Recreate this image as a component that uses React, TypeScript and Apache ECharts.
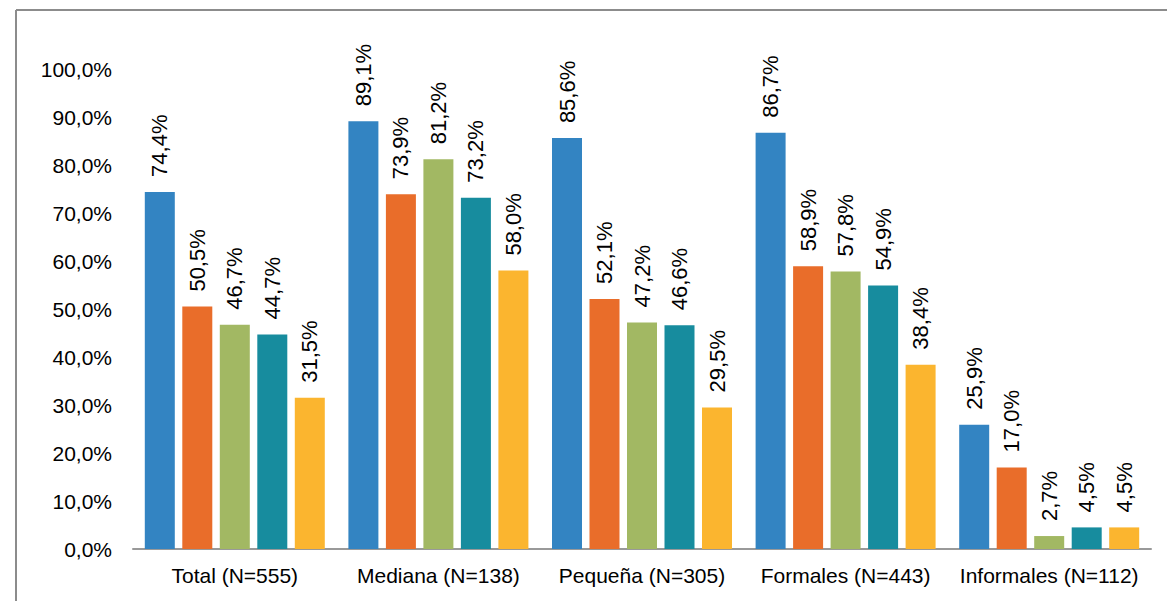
import React, { useEffect, useRef } from "react";
import * as echarts from "echarts";

const categories = ["Total (N=555)", "Mediana (N=138)", "Pequeña (N=305)", "Formales (N=443)", "Informales (N=112)"];
const serie1 = [74.4, 89.1, 85.6, 86.7, 25.9];
const serie2 = [50.5, 73.9, 52.1, 58.9, 17.0];
const serie3 = [46.7, 81.2, 47.2, 57.8, 2.7];
const serie4 = [44.7, 73.2, 46.6, 54.9, 4.5];
const serie5 = [31.5, 58.0, 29.5, 38.4, 4.5];
const seriesNames = ["Serie 1", "Serie 2", "Serie 3", "Serie 4", "Serie 5"];
const colors = ["#3384C2", "#E96D2A", "#A2B863", "#178C9E", "#FBB52F"];

const fmt = (v: number) => v.toFixed(1).replace(".", ",") + "%";

export default function App() {
  const ref = useRef<HTMLDivElement>(null);
  useEffect(() => {
    document.body.style.margin = "0";
    const chart = echarts.init(ref.current!, null, { renderer: "svg" });
    const data = [serie1, serie2, serie3, serie4, serie5];
    chart.setOption({
      animation: false,
      textStyle: { fontFamily: "Liberation Sans, Arial, sans-serif" },
      grid: { left: 133, right: 16, top: 69, bottom: 52 },
      xAxis: {
        type: "category",
        data: categories,
        axisLine: { lineStyle: { color: "#999999", width: 2 } },
        axisTick: { show: false },
        axisLabel: { color: "#000", fontSize: 21, margin: 16, interval: 0 },
      },
      yAxis: {
        type: "value",
        min: 0,
        max: 100,
        interval: 10,
        splitLine: { show: false },
        axisLine: { show: false },
        axisTick: { show: false },
        axisLabel: { color: "#000", fontSize: 21, margin: 21, formatter: (v: number) => fmt(v) },
      },
      graphic: [
        { type: "line", shape: { x1: 16, y1: 10, x2: 1167, y2: 10 }, style: { stroke: "#8c8c8c", lineWidth: 2 } },
        { type: "line", shape: { x1: 16, y1: 10, x2: 16, y2: 601 }, style: { stroke: "#8c8c8c", lineWidth: 2 } },
      ],
      series: data.map((d, i) => ({
        name: seriesNames[i],
        type: "bar",
        data: d,
        barWidth: 30,
        barGap: "25%",
        itemStyle: { color: colors[i] },
        label: {
          show: true,
          position: "top",
          rotate: 90,
          align: "left",
          verticalAlign: "middle",
          distance: 15,
          fontSize: 22,
          color: "#000",
          formatter: (p: any) => fmt(p.value),
        },
      })),
    });
    return () => chart.dispose();
  }, []);
  return <div ref={ref} style={{ width: 1167, height: 601 }} />;
}
